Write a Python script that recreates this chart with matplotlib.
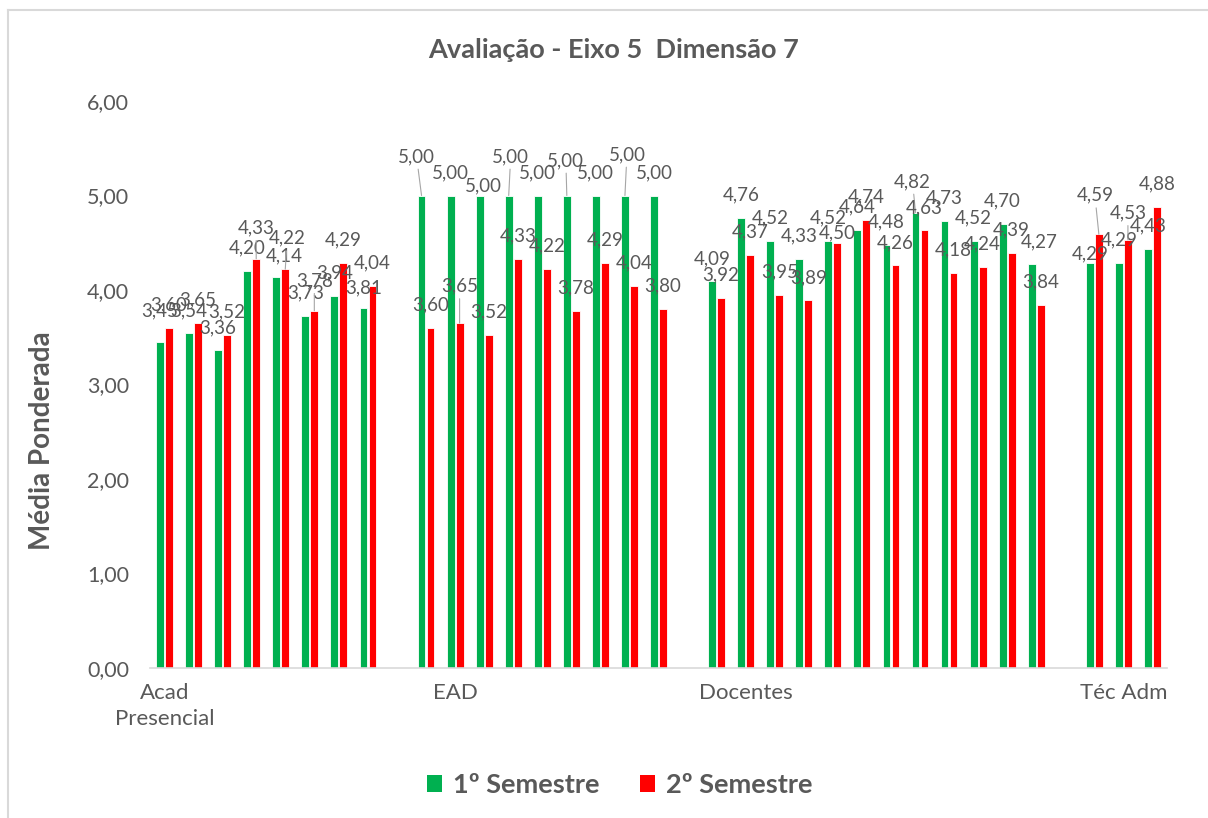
import numpy as np
import matplotlib
matplotlib.use("Agg")
import matplotlib.pyplot as plt
from matplotlib.patches import Patch
from matplotlib.lines import Line2D

plt.rcParams['font.family'] = ['Lato', 'DejaVu Sans']

# data
groups = ["Acad\nPresencial", "EAD", "Docentes", "Téc Adm"]
acad_s1 = [3.45, 3.54, 3.36, 4.20, 4.14, 3.73, 3.94, 3.81]
acad_s2 = [3.60, 3.65, 3.52, 4.33, 4.22, 3.78, 4.29, 4.04]
ead_s1 = [5.00, 5.00, 5.00, 5.00, 5.00, 5.00, 5.00, 5.00, 5.00]
ead_s2 = [3.60, 3.65, 3.52, 4.33, 4.22, 3.78, 4.29, 4.04, 3.80]
doc_s1 = [4.09, 4.76, 4.52, 4.33, 4.52, 4.64, 4.48, 4.82, 4.73, 4.52, 4.70, 4.27]
doc_s2 = [3.92, 4.37, 3.95, 3.89, 4.50, 4.74, 4.26, 4.63, 4.18, 4.24, 4.39, 3.84]
tec_s1 = [4.29, 4.29, 4.43]
tec_s2 = [4.59, 4.53, 4.88]
series_names = ["1º Semestre", "2º Semestre"]

GREEN = '#00B050'
RED = '#FF0000'
GREY = '#595959'

# label placement tweaks (pixels: dx, dy above bar top), mimicking the
# hand-moved Excel data labels
label_moves = {
    (0, 0, 0): (0, 31), (1, 0, 3): (0, 31), (0, 0, 4): (8, 21),
    (1, 0, 4): (2, 31), (1, 0, 5): (0, 30), (0, 0, 7): (0, 20),
    (0, 1, 0): (-5, 39), (1, 1, 1): (0, 37), (0, 1, 2): (4, 10),
    (0, 1, 3): (2, 39), (0, 1, 5): (-1, 35), (0, 1, 7): (2, 41),
    (1, 2, 4): (0, 10), (0, 2, 7): (-3, 31), (0, 2, 11): (7, 23),
    (0, 3, 0): (0, 9), (1, 3, 0): (-4, 39), (1, 3, 1): (0, 27),
}
leaders = {(1, 0, 3), (1, 0, 4), (1, 0, 5), (0, 1, 0), (1, 1, 1), (0, 1, 3),
           (0, 1, 5), (0, 1, 7), (0, 2, 7), (1, 3, 0), (1, 3, 1)}
label_at = [0, 1, 1, 1]

data = [(acad_s1, acad_s2), (ead_s1, ead_s2), (doc_s1, doc_s2), (tec_s1, tec_s2)]

fig = plt.figure(figsize=(12.08, 8.18), dpi=100)
ax = fig.add_axes([150 / 1208, 150 / 818, 1017 / 1208, 567 / 818])

width = 0.27
offset = 0.155
start = 0
tick_pos = []
for g, (s1, s2) in enumerate(data):
    x = start + np.arange(len(s1))
    tick_pos.append(x[label_at[g]])
    for k, (vals, col) in enumerate([(s1, GREEN), (s2, RED)]):
        xs = x + (offset if k else -offset)
        ax.bar(xs, vals, width, color=col, edgecolor='white', linewidth=0.6)
        for i, (xx, v) in enumerate(zip(xs, vals)):
            dx, dy = label_moves.get((k, g, i), (0, 23))
            arrow = None
            if (k, g, i) in leaders:
                arrow = dict(arrowstyle='-', color='#A6A6A6', lw=0.8,
                             shrinkA=1, shrinkB=0)
            ax.annotate(f"{v:.2f}".replace('.', ','), (xx, v),
                        xytext=(dx, dy), textcoords='offset pixels',
                        ha='center', va='center', fontsize=13.5,
                        color=GREY, arrowprops=arrow)
    start += len(s1) + 1

ax.set_xlim(-0.5, start - 1.5)
ax.set_ylim(0, 6)
ax.set_xticks(tick_pos)
ax.set_xticklabels(groups, fontsize=16, color=GREY, linespacing=1.35)
ax.set_yticks(np.arange(0, 7))
ax.set_yticklabels([f"{v:.2f}".replace('.', ',') for v in range(7)],
                   fontsize=15.5, color=GREY)
ax.tick_params(axis='x', length=0, pad=11)
ax.tick_params(axis='y', length=0, pad=15)
for s in ['top', 'right', 'left']:
    ax.spines[s].set_visible(False)
ax.spines['bottom'].set_color('#D9D9D9')
ax.spines['bottom'].set_linewidth(1.2)

fig.text(614 / 1208, 1 - 50 / 818, "Avaliação - Eixo 5  Dimensão 7",
         ha='center', va='center', fontsize=19.5, fontweight='bold', color=GREY)
fig.text(42 / 1208, 1 - 441 / 818, "Média Ponderada", rotation=90,
         ha='center', va='center', fontsize=20, fontweight='bold', color=GREY)

handles = [Patch(facecolor=GREEN), Patch(facecolor=RED)]
fig.legend(handles, series_names, loc='center', bbox_to_anchor=(620 / 1208, 1 - 785 / 818),
           ncol=2, frameon=False, handlelength=0.55, handleheight=0.55,
           handletextpad=0.4, columnspacing=1.5,
           prop={'size': 19.5, 'weight': 'bold'}, labelcolor=GREY)

# chart border (only left and top edges visible in the reference)
fig.add_artist(Line2D([8 / 1208, 8 / 1208], [0, 1 - 10 / 818], color='#D9D9D9', lw=1.5))
fig.add_artist(Line2D([8 / 1208, 1], [1 - 10 / 818, 1 - 10 / 818], color='#D9D9D9', lw=1.5))

fig.savefig("out.png", dpi=100)
